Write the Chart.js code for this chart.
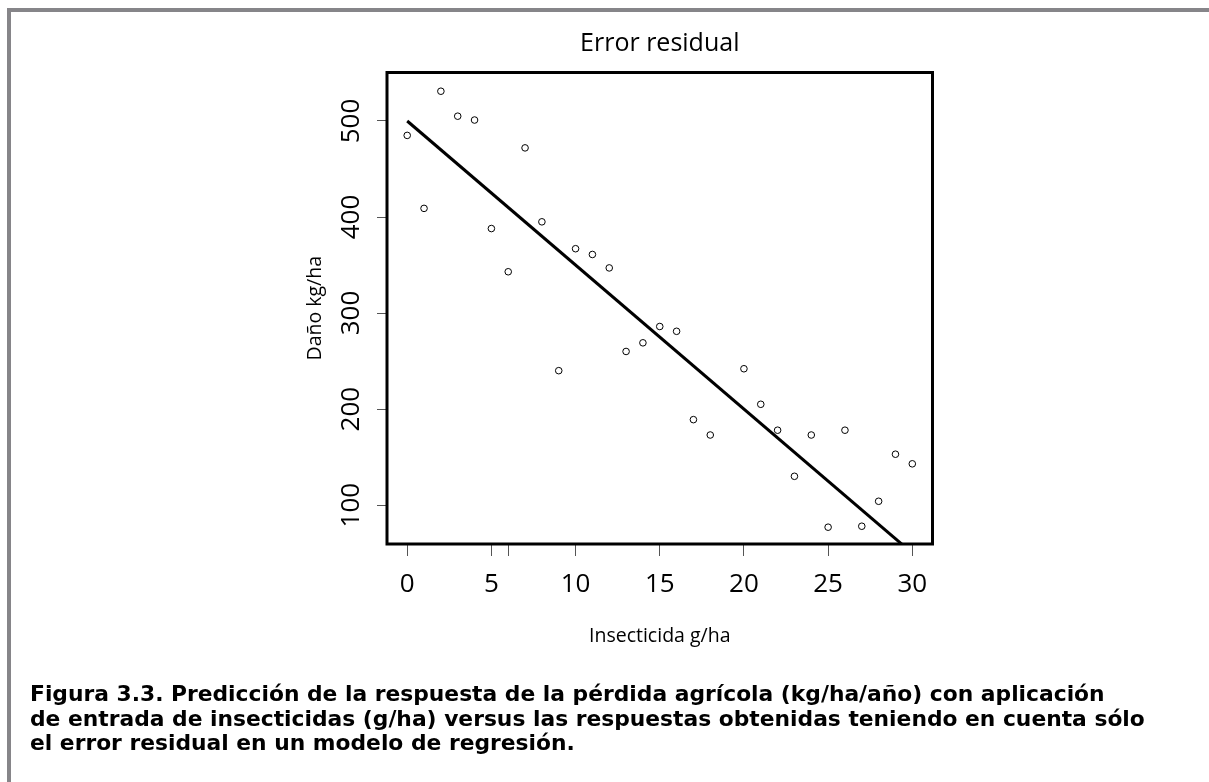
<!DOCTYPE html>
<html lang="es">
<head>
<meta charset="utf-8">
<title>Error residual</title>
<script src="https://cdn.jsdelivr.net/npm/chart.js@4/dist/chart.umd.min.js"></script>
<style>
    html, body { margin: 0; padding: 0; background: #fff; }
    body { width: 1209px; height: 782px; position: relative; overflow: hidden; }
    .frame {
        position: absolute; left: 7px; top: 8px; right: -10px; bottom: -10px;
        border-top: 4px solid #868589; border-left: 4px solid #868589;
    }
    .chart-box { position: absolute; left: 0; top: 0; width: 1209px; height: 782px; }
    .caption {
        position: absolute; left: 30px; top: 682px;
        font-family: 'DejaVu Sans', sans-serif; font-weight: 700; font-size: 21.8px;
        line-height: 24.5px; color: #000; white-space: nowrap;
    }
</style>
</head>
<body>
<div class="frame"></div>
<div class="chart-box"><canvas id="residualChart"></canvas></div>
<div class="caption">
    Figura 3.3. Predicción de la respuesta de la pérdida agrícola (kg/ha/año) con aplicación<br>
    de entrada de insecticidas (g/ha) versus las respuestas obtenidas teniendo en cuenta sólo<br>
    el error residual en un modelo de regresión.
</div>

<script>
// Observed damage per insecticide dose (no point at 19 g/ha)
const doses = [0, 1, 2, 3, 4, 5, 6, 7, 8, 9, 10, 11, 12, 13, 14, 15, 16, 17, 18,
               20, 21, 22, 23, 24, 25, 26, 27, 28, 29, 30];
const damage = [485, 409, 531, 505, 501, 388, 343, 472, 395, 240, 367, 361, 347, 260, 269, 286, 281, 189, 173,
                242, 205, 178, 130, 173, 77, 178, 78, 104, 153, 143];

// Fitted regression line (clipped by the plot area)
const fitX = [0, 30];
const fitY = [500, 50];

// Axis ticks
const xTickValues = [0, 5, 6, 10, 15, 20, 25, 30];
const xTickLabels = ['0', '5', '', '10', '15', '20', '25', '30'];
const yTickValues = [100, 200, 300, 400, 500];

document.addEventListener('DOMContentLoaded', () => {
    if (typeof Chart === 'undefined') return;

    Chart.defaults.font.family = "'Open Sans', sans-serif";
    Chart.defaults.color = '#000';

    // R style closed box around the plot region
    const plotBox = {
        id: 'plotBox',
        afterDatasetsDraw(chart) {
            const { ctx, chartArea: a } = chart;
            ctx.save();
            ctx.strokeStyle = '#000';
            ctx.lineWidth = 3;
            ctx.strokeRect(a.left, a.top, a.right - a.left, a.bottom - a.top);
            ctx.restore();
        }
    };

    const points = doses.map((x, i) => ({ x: x, y: damage[i] }));
    const fit = fitX.map((x, i) => ({ x: x, y: fitY[i] }));

    new Chart(document.getElementById('residualChart'), {
        type: 'scatter',
        data: {
            datasets: [
                {
                    data: points,
                    pointStyle: 'circle',
                    pointRadius: 3.3,
                    pointBorderWidth: 1,
                    pointBorderColor: '#000',
                    pointBackgroundColor: 'rgba(0,0,0,0)'
                },
                {
                    type: 'line',
                    data: fit,
                    borderColor: '#000',
                    borderWidth: 3,
                    pointRadius: 0,
                    fill: false
                }
            ]
        },
        options: {
            responsive: true,
            maintainAspectRatio: false,
            animation: false,
            events: [],
            layout: { padding: { left: 0, top: 0, right: 276.5, bottom: 0 } },
            plugins: {
                legend: { display: false },
                tooltip: { enabled: false },
                title: {
                    display: true,
                    fullSize: false,
                    text: 'Error residual',
                    color: '#000',
                    font: { size: 25, weight: 'normal' },
                    padding: { top: 28.8, bottom: 13.7 }
                }
            },
            scales: {
                x: {
                    type: 'linear',
                    min: -1.2,
                    max: 31.2,
                    afterFit(scale) { scale.height = 238; },
                    afterBuildTicks(scale) { scale.ticks = xTickValues.map(v => ({ value: v })); },
                    border: { display: false },
                    grid: { drawOnChartArea: false, drawTicks: true, tickLength: 12, color: '#555', lineWidth: 1 },
                    ticks: {
                        font: { size: 26 },
                        padding: 12.5,
                        maxRotation: 0,
                        autoSkip: false,
                        callback: (v) => xTickLabels[xTickValues.indexOf(v)]
                    },
                    title: {
                        display: true,
                        text: 'Insecticida g/ha',
                        font: { size: 19.5 },
                        padding: { top: 0, bottom: 133.7 }
                    }
                },
                y: {
                    type: 'linear',
                    min: 59.5,
                    max: 550.5,
                    afterFit(scale) { scale.width = 387; },
                    afterBuildTicks(scale) { scale.ticks = yTickValues.map(v => ({ value: v })); },
                    border: { display: false },
                    grid: { drawOnChartArea: false, drawTicks: true, tickLength: 10, color: '#555', lineWidth: 1 },
                    ticks: {
                        font: { size: 26 },
                        padding: 3,
                        minRotation: 90,
                        maxRotation: 90,
                        crossAlign: 'center',
                        autoSkip: false
                    },
                    title: {
                        display: true,
                        text: 'Daño kg/ha',
                        font: { size: 19.5 },
                        padding: { top: 303.6, bottom: 0 }
                    }
                }
            }
        },
        plugins: [plotBox]
    });
});
</script>
</body>
</html>
